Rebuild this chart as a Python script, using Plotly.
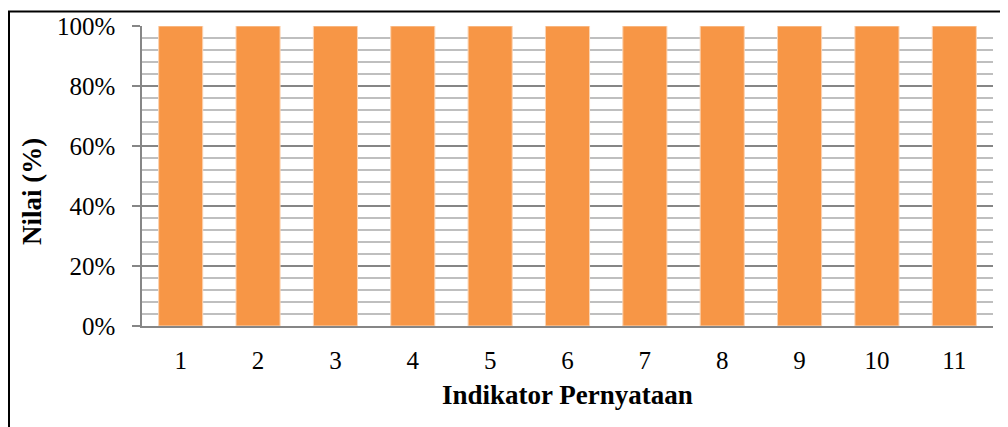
import plotly.graph_objects as go

categories = ["1", "2", "3", "4", "5", "6", "7", "8", "9", "10", "11"]
values = [100, 100, 100, 100, 100, 100, 100, 100, 100, 100, 100]
y_ticks = [0, 20, 40, 60, 80, 100]
y_ticklabels = ["0%", "20%", "40%", "60%", "80%", "100%"]

FONT = "Liberation Serif"

fig = go.Figure()
fig.add_trace(go.Bar(
    x=categories, y=values,
    marker=dict(color="#F79646", line=dict(color="#FBD4B4", width=1)),
    showlegend=False,
))

# page body has an 8px margin, so figure pixel = screen pixel - 8
OFF = 8
W, H = 1000, 419
L, T = 142 - OFF, 26 - OFF
R = W - (993 - OFF)
B = H - (326 - OFF)
pw, ph = W - L - R, H - T - B

def px_x(x):  # screen px -> paper
    return (x - OFF - L) / pw

def px_y(y):
    return (H - B - (y - OFF)) / ph

fig.update_layout(
    width=W, height=H,
    margin=dict(l=L, r=R, t=T, b=B, autoexpand=False),
    paper_bgcolor="white", plot_bgcolor="white",
    bargap=0.43,
    font=dict(family=FONT, size=25, color="black"),
    xaxis=dict(
        type="category", showgrid=False, showline=True, linecolor="#868686",
        linewidth=1.5, ticks="", ticklabelstandoff=11,
        tickfont=dict(family=FONT, size=25, color="black"),
    ),
    yaxis=dict(
        range=[0, 100], tickvals=y_ticks, ticktext=y_ticklabels,
        showline=True, linecolor="#868686", linewidth=1.5,
        ticks="outside", ticklen=8, tickcolor="#868686", tickwidth=1.5,
        showgrid=True, gridcolor="#868686", gridwidth=1.5,
        minor=dict(dtick=4, showgrid=True, gridcolor="#BFBFBF", gridwidth=1.5),
        zeroline=False, ticklabelstandoff=12,
        tickfont=dict(family=FONT, size=25, color="black"),
    ),
    annotations=[
        dict(text="<b>Nilai (%)</b>", textangle=-90, xref="paper", yref="paper",
             x=px_x(32), y=px_y(192), xanchor="center", yanchor="middle",
             showarrow=False, font=dict(family=FONT, size=27, color="black")),
        dict(text="<b>Indikator Pernyataan</b>", xref="paper", yref="paper",
             x=px_x(567), y=px_y(395), xanchor="center", yanchor="middle",
             showarrow=False, font=dict(family=FONT, size=27, color="black")),
    ],
    shapes=[
        dict(type="line", xref="paper", yref="paper",
             x0=px_x(9), x1=px_x(9), y0=px_y(11.5), y1=px_y(440),
             line=dict(color="black", width=2)),
        dict(type="line", xref="paper", yref="paper",
             x0=px_x(8), x1=px_x(1020), y0=px_y(11.5), y1=px_y(11.5),
             line=dict(color="black", width=2)),
    ],
)

fig.write_html("out.html")
